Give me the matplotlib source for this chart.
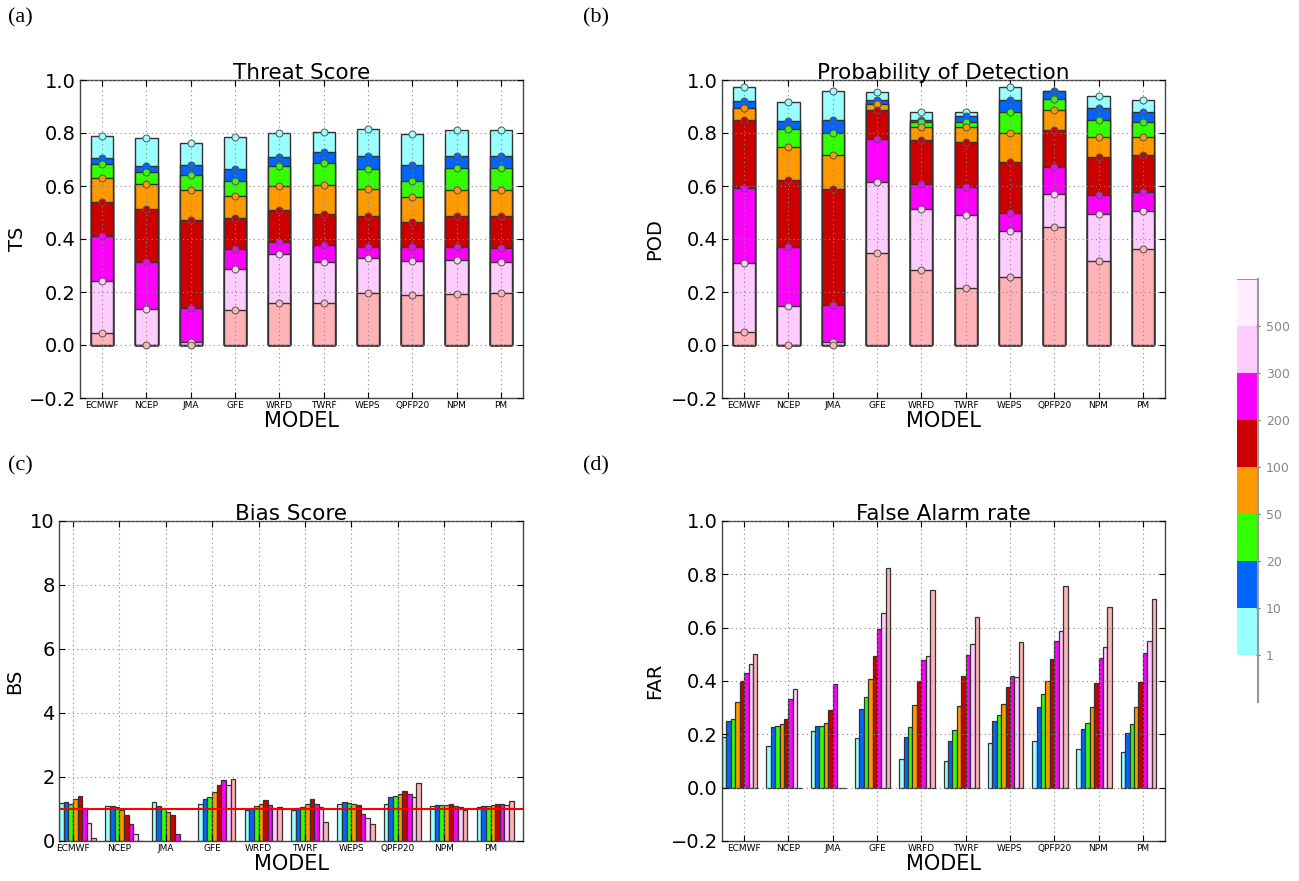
import matplotlib
matplotlib.use('Agg')
import matplotlib.pyplot as plt
import numpy as np

# ---- data --------------------------------------------------------------
models = ['ECMWF', 'NCEP', 'JMA', 'GFE', 'WRFD', 'TWRF', 'WEPS', 'QPFP20', 'NPM', 'PM']
thresholds = ['1', '10', '20', '50', '100', '200', '300', '500']

# rows follow thresholds, columns follow models
ts_values = [
    [0.790, 0.781, 0.762, 0.784, 0.800, 0.804, 0.816, 0.797, 0.813, 0.810],
    [0.707, 0.674, 0.679, 0.664, 0.709, 0.730, 0.712, 0.679, 0.714, 0.714],
    [0.682, 0.653, 0.643, 0.620, 0.674, 0.687, 0.663, 0.620, 0.669, 0.669],
    [0.629, 0.606, 0.585, 0.562, 0.600, 0.604, 0.589, 0.558, 0.585, 0.585],
    [0.541, 0.512, 0.473, 0.478, 0.511, 0.494, 0.488, 0.463, 0.488, 0.488],
    [0.410, 0.313, 0.140, 0.362, 0.390, 0.376, 0.369, 0.371, 0.371, 0.365],
    [0.243, 0.136, 0.011, 0.286, 0.343, 0.313, 0.330, 0.318, 0.321, 0.313],
    [0.047, 0.000, 0.000, 0.133, 0.157, 0.157, 0.196, 0.189, 0.192, 0.195],
]

pod_values = [
    [0.975, 0.916, 0.958, 0.956, 0.880, 0.879, 0.975, 0.958, 0.941, 0.926],
    [0.921, 0.844, 0.850, 0.923, 0.849, 0.863, 0.925, 0.958, 0.893, 0.879],
    [0.893, 0.814, 0.799, 0.910, 0.840, 0.843, 0.879, 0.927, 0.850, 0.840],
    [0.893, 0.748, 0.716, 0.910, 0.823, 0.823, 0.799, 0.887, 0.785, 0.785],
    [0.848, 0.621, 0.587, 0.887, 0.774, 0.767, 0.692, 0.811, 0.711, 0.717],
    [0.591, 0.368, 0.152, 0.776, 0.606, 0.596, 0.497, 0.672, 0.565, 0.577],
    [0.308, 0.147, 0.011, 0.614, 0.514, 0.492, 0.430, 0.570, 0.494, 0.506],
    [0.049, 0.000, 0.000, 0.347, 0.283, 0.214, 0.255, 0.444, 0.316, 0.364],
]

bs_values = [
    [1.19, 1.08, 1.21, 1.15, 0.98, 0.98, 1.15, 1.15, 1.09, 1.07],
    [1.21, 1.09, 1.09, 1.31, 1.03, 1.03, 1.21, 1.36, 1.14, 1.09],
    [1.17, 1.05, 1.03, 1.37, 1.08, 1.07, 1.19, 1.42, 1.11, 1.09],
    [1.31, 0.97, 0.92, 1.52, 1.17, 1.17, 1.15, 1.47, 1.11, 1.11],
    [1.40, 0.82, 0.82, 1.74, 1.28, 1.31, 1.11, 1.56, 1.15, 1.17],
    [1.03, 0.54, 0.23, 1.91, 1.14, 1.17, 0.83, 1.47, 1.09, 1.15],
    [0.57, 0.21, 0.00, 1.76, 1.03, 1.07, 0.71, 1.36, 1.05, 1.11],
    [0.09, 0.00, 0.00, 1.95, 1.07, 0.59, 0.54, 1.81, 0.98, 1.24],
]

far_values = [
    [0.190, 0.156, 0.211, 0.186, 0.108, 0.100, 0.168, 0.175, 0.145, 0.134],
    [0.250, 0.229, 0.231, 0.296, 0.190, 0.176, 0.249, 0.301, 0.219, 0.206],
    [0.259, 0.231, 0.231, 0.341, 0.229, 0.216, 0.273, 0.351, 0.243, 0.238],
    [0.320, 0.240, 0.243, 0.406, 0.311, 0.306, 0.314, 0.401, 0.304, 0.304],
    [0.401, 0.258, 0.291, 0.494, 0.401, 0.419, 0.379, 0.484, 0.394, 0.396],
    [0.429, 0.334, 0.389, 0.595, 0.479, 0.498, 0.419, 0.549, 0.486, 0.504],
    [0.465, 0.370, 0.000, 0.654, 0.493, 0.540, 0.416, 0.586, 0.528, 0.550],
    [0.501, 0.000, 0.000, 0.825, 0.741, 0.640, 0.546, 0.755, 0.678, 0.709],
]

bias_ref = 1.0

# ---- style -------------------------------------------------------------
colors = ['#99FFFF', '#0066FF', '#33FF00', '#FF9900', '#CC0000',
          '#FF00FF', '#FFCCFF', '#FFB3B6']
cbar_colors = ['#FFFFFF'] + colors[:7] + ['#FFEEFF']
edge = '#333333'

W, H = 1299, 881
fig = plt.figure(figsize=(W / 100, H / 100), dpi=100)


def box(l, t, r, b):
    return [l / W, 1 - b / H, (r - l) / W, (b - t) / H]


def style_axes(ax, title, ylabel, ylab_x):
    ax.set_title(title, fontsize=15.5, pad=1)
    ax.set_ylabel(ylabel, fontsize=14)
    ax.yaxis.set_label_coords(ylab_x, 0.5)
    ax.set_xlabel('MODEL', fontsize=15)
    ax.xaxis.set_label_coords(0.5, -0.042)
    ax.set_xticks(np.arange(len(models)))
    ax.set_xticklabels(models, fontsize=6.5)
    ax.tick_params(axis='x', pad=2, direction='in', top=True, length=4)
    ax.tick_params(axis='y', labelsize=14, direction='in', right=True, length=4, pad=3)
    ax.grid(True, linestyle=(0, (1, 3)), color='#888888', linewidth=0.8)
    ax.set_axisbelow(False)
    for s in ax.spines.values():
        s.set_color('#444444')
        s.set_linewidth(1.0)


def overlap_panel(ax, values):
    x = np.arange(len(models))
    for j, row in enumerate(values):
        ax.bar(x, row, width=0.5, color=colors[j], edgecolor=edge, linewidth=1.0, zorder=2)
        ax.plot(x, row, 'o', color=colors[j], mec='#555555', mew=0.7, ms=5, zorder=3)
    ax.set_xlim(-0.5, 9.5)
    ax.set_ylim(-0.2, 1.0)
    ax.set_yticks(np.arange(-0.2, 1.01, 0.2))


def grouped_panel(ax, values, shift):
    x = np.arange(len(models))
    for j, row in enumerate(values):
        ax.bar(x + (j - shift) * 0.1, row, width=0.1, align='edge',
               color=colors[j], edgecolor=edge, linewidth=0.9, zorder=2)


# (a) Threat Score
ax_a = fig.add_axes(box(80, 80, 523, 398))
overlap_panel(ax_a, ts_values)
style_axes(ax_a, 'Threat Score', 'TS', -0.12)

# (b) Probability of Detection
ax_b = fig.add_axes(box(722, 80, 1165, 398))
overlap_panel(ax_b, pod_values)
style_axes(ax_b, 'Probability of Detection', 'POD', -0.13)

# (c) Bias Score
ax_c = fig.add_axes(box(59, 521, 523, 841))
grouped_panel(ax_c, bs_values, 3)
ax_c.axhline(bias_ref, color='red', linewidth=1.5, zorder=4)
ax_c.set_xlim(-0.3, 9.7)
ax_c.set_ylim(0, 10)
ax_c.set_yticks(np.arange(0, 11, 2))
style_axes(ax_c, 'Bias Score', 'BS', -0.075)

# (d) False Alarm rate
ax_d = fig.add_axes(box(722, 521, 1165, 841))
grouped_panel(ax_d, far_values, 5)
ax_d.set_xlim(-0.5, 9.5)
ax_d.set_ylim(-0.2, 1.0)
ax_d.set_yticks(np.arange(-0.2, 1.01, 0.2))
style_axes(ax_d, 'False Alarm rate', 'FAR', -0.13)

# panel letters
for lab, px, py in [('(a)', 8, 18), ('(b)', 583, 18), ('(c)', 8, 466), ('(d)', 583, 466)]:
    fig.text(px / W, 1 - py / H, lab, fontsize=16, family='Liberation Serif',
             ha='left', va='center')

# colour key on the right
ax_k = fig.add_axes(box(1237, 279, 1258, 702))
ax_k.bar(np.zeros(len(cbar_colors)), np.ones(len(cbar_colors)),
         bottom=np.arange(len(cbar_colors)), width=1.0, color=cbar_colors, align='edge')
ax_k.set_xlim(0, 1)
ax_k.set_ylim(0, len(cbar_colors))
ax_k.set_xticks([])
ax_k.set_yticks(np.arange(1, len(thresholds) + 1))
ax_k.set_yticklabels(thresholds, fontsize=9, color='#888888')
ax_k.yaxis.tick_right()
ax_k.tick_params(axis='y', length=3, color='#666666', pad=4, direction='inout')
for name, s in ax_k.spines.items():
    s.set_visible(name == 'right')
    s.set_color('#999999')
    s.set_linewidth(1.5)
ax_k.axhline(len(cbar_colors), color='#999999', linewidth=1.5)

fig.savefig('out.png', dpi=100)
